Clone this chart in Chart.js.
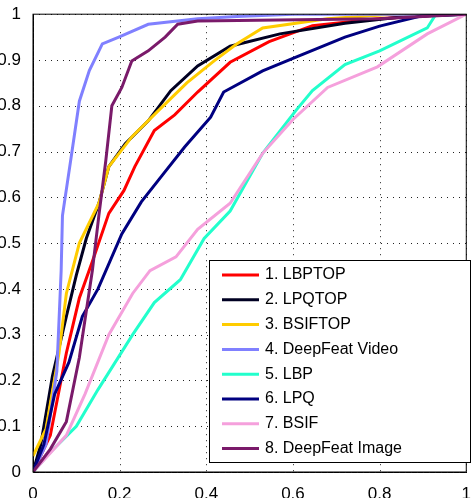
<!DOCTYPE html>
<html>
<head>
<meta charset="utf-8">
<script src="https://cdn.jsdelivr.net/npm/chart.js@4"></script>
<style>
  body { margin: 0; background: #fff; }
  #wrap { width: 475px; height: 498px; }
</style>
</head>
<body>
<div id="wrap"><canvas id="rocChart"></canvas></div>
<script>
/*---- data ----*/
var names = ["1. LBPTOP", "2. LPQTOP", "3. BSIFTOP", "4. DeepFeat Video", "5. LBP", "6. LPQ", "7. BSIF", "8. DeepFeat Image"];
var colors = ["#ff0000", "#000022", "#ffcc00", "#8080ff", "#22ffcc", "#000080", "#f5a0dc", "#7a1a6a"];

var lbptopX = [0, 0.04, 0.077, 0.107, 0.137, 0.175, 0.21, 0.235, 0.28, 0.327, 0.38, 0.455, 0.545, 0.645, 0.795, 0.97, 1];
var lbptopY = [0, 0.08, 0.26, 0.38, 0.46, 0.565, 0.615, 0.667, 0.746, 0.78, 0.83, 0.895, 0.94, 0.975, 0.99, 1, 1];
var lpqtopX = [0, 0.018, 0.045, 0.077, 0.1, 0.123, 0.152, 0.175, 0.213, 0.266, 0.318, 0.38, 0.455, 0.57, 0.72, 0.86, 1];
var lpqtopY = [0, 0.06, 0.21, 0.34, 0.43, 0.51, 0.587, 0.667, 0.717, 0.767, 0.833, 0.887, 0.93, 0.957, 0.98, 0.995, 1];
var bsiftopX = [0, 0.03, 0.06, 0.077, 0.107, 0.152, 0.175, 0.228, 0.29, 0.355, 0.418, 0.47, 0.53, 0.68, 0.83, 1];
var bsiftopY = [0.035, 0.094, 0.26, 0.39, 0.5, 0.587, 0.667, 0.732, 0.79, 0.85, 0.898, 0.935, 0.97, 0.99, 1, 1];
var dfVideoX = [0, 0.03, 0.055, 0.065, 0.068, 0.09, 0.107, 0.13, 0.16, 0.198, 0.266, 0.38, 0.47, 0.6, 1];
var dfVideoY = [0, 0.06, 0.22, 0.44, 0.56, 0.70, 0.81, 0.877, 0.935, 0.95, 0.978, 0.99, 0.995, 1, 1];
var lbpX = [0, 0.04, 0.1, 0.15, 0.23, 0.28, 0.34, 0.395, 0.455, 0.53, 0.607, 0.645, 0.72, 0.80, 0.91, 0.93, 1];
var lbpY = [0, 0.043, 0.1, 0.18, 0.3, 0.37, 0.42, 0.51, 0.57, 0.696, 0.79, 0.833, 0.89, 0.92, 0.97, 1, 1];
var lpqX = [0, 0.025, 0.05, 0.083, 0.114, 0.15, 0.205, 0.25, 0.30, 0.35, 0.41, 0.44, 0.53, 0.607, 0.72, 0.80, 0.895, 1];
var lpqY = [0, 0.06, 0.17, 0.24, 0.34, 0.4, 0.52, 0.59, 0.65, 0.71, 0.775, 0.83, 0.876, 0.906, 0.95, 0.974, 0.996, 1];
var bsifX = [0, 0.077, 0.12, 0.175, 0.23, 0.27, 0.33, 0.38, 0.455, 0.53, 0.6, 0.68, 0.795, 0.91, 1];
var bsifY = [0, 0.08, 0.17, 0.3, 0.39, 0.44, 0.47, 0.53, 0.587, 0.696, 0.77, 0.84, 0.885, 0.957, 1];
var dfImageX = [0, 0.04, 0.077, 0.107, 0.137, 0.152, 0.168, 0.182, 0.205, 0.228, 0.266, 0.305, 0.334, 0.38, 0.8, 1];
var dfImageY = [0, 0.05, 0.11, 0.25, 0.44, 0.56, 0.68, 0.8, 0.84, 0.898, 0.92, 0.95, 0.978, 0.985, 0.99, 1];

var xTicks = [0, 0.2, 0.4, 0.6, 0.8, 1];
var yTicks = [0, 0.1, 0.2, 0.3, 0.4, 0.5, 0.6, 0.7, 0.8, 0.9, 1];

var seriesX = [lbptopX, lpqtopX, bsiftopX, dfVideoX, lbpX, lpqX, bsifX, dfImageX];
var seriesY = [lbptopY, lpqtopY, bsiftopY, dfVideoY, lbpY, lpqY, bsifY, dfImageY];

function pairs(xs, ys) {
  return xs.map(function (x, i) { return { x: x, y: ys[i] }; });
}

var datasets = names.map(function (n, i) {
  return {
    label: n,
    data: pairs(seriesX[i], seriesY[i]),
    borderColor: colors[i],
    borderWidth: 3,
    pointRadius: 0,
    fill: false,
    tension: 0
  };
});
// later series on top, like the picture
datasets.reverse();

/*---- dotted grid, frame + legend inside the plot ----*/
var boxPlugin = {
  id: 'boxPlugin',
  beforeDatasetsDraw: function (chart) {
    var c = chart.ctx, a = chart.chartArea;
    var sx = chart.scales.x, sy = chart.scales.y;
    c.save();
    c.strokeStyle = '#222';
    c.lineWidth = 1;
    c.setLineDash([1, 5]);
    xTicks.forEach(function (v) {
      var px = Math.round(sx.getPixelForValue(v)) + 0.5;
      c.beginPath(); c.moveTo(px, a.top); c.lineTo(px, a.bottom); c.stroke();
    });
    yTicks.forEach(function (v) {
      var py = Math.round(sy.getPixelForValue(v)) + 0.5;
      c.beginPath(); c.moveTo(a.left, py); c.lineTo(a.right, py); c.stroke();
    });
    c.restore();
  },
  afterDraw: function (chart) {
    var c = chart.ctx, a = chart.chartArea;
    c.save();
    c.strokeStyle = '#000';
    c.lineWidth = 1;
    c.strokeRect(a.left, a.top, a.right - a.left, a.bottom - a.top);

    var bx = 209, by = 260, bw = 261, bh = 202;
    c.fillStyle = '#fff';
    c.fillRect(bx, by, bw, bh);
    c.strokeRect(bx + 0.5, by + 0.5, bw, bh);
    c.font = '16px "Liberation Sans", Arial, sans-serif';
    c.textBaseline = 'middle';
    for (var i = 0; i < names.length; i++) {
      var yy = by + 15 + i * 24.8;
      c.strokeStyle = colors[i];
      c.lineWidth = 3;
      c.beginPath();
      c.moveTo(bx + 13, yy);
      c.lineTo(bx + 50, yy);
      c.stroke();
      c.fillStyle = '#000';
      c.fillText(names[i], bx + 56, yy);
    }
    c.restore();
  }
};

var ctx = document.getElementById('rocChart').getContext('2d');
var rocChart = new Chart(ctx, {
  type: 'line',
  data: { datasets: datasets },
  options: {
    responsive: true,
    maintainAspectRatio: false,
    animation: false,
    layout: { padding: { top: 10, right: 2, left: 0, bottom: 0 } },
    plugins: { legend: { display: false }, tooltip: { enabled: false } },
    scales: {
      x: {
        type: 'linear', min: 0, max: 1,
        afterBuildTicks: function (ax) { ax.ticks = xTicks.map(function (v) { return { value: v }; }); },
        afterFit: function (ax) { ax.height = 26; },
        ticks: { color: '#000', font: { size: 17, family: '"Liberation Sans", Arial' }, padding: 4, maxRotation: 0,
                 callback: function (v) { return String(v); } },
        grid: { display: false },
        border: { color: '#000' }
      },
      y: {
        type: 'linear', min: 0, max: 1,
        afterBuildTicks: function (ax) { ax.ticks = yTicks.map(function (v) { return { value: v }; }); },
        afterFit: function (ax) { ax.width = 33; },
        ticks: { color: '#000', font: { size: 17, family: '"Liberation Sans", Arial' }, padding: 4,
                 callback: function (v) { return String(Math.round(v * 10) / 10); } },
        grid: { display: false },
        border: { color: '#000' }
      }
    }
  },
  plugins: [boxPlugin]
});
</script>
</body>
</html>
